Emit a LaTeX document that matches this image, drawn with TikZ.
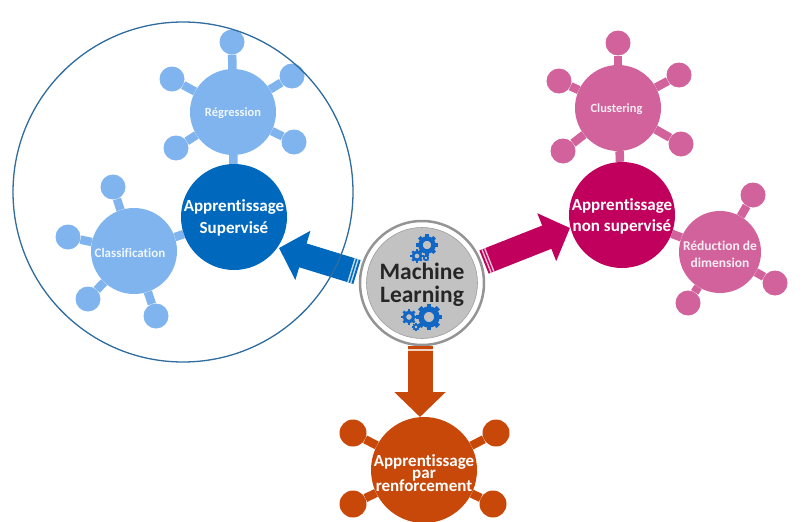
\documentclass[tikz,border=0pt]{standalone}
\usepackage{fontspec}
\setmainfont[Ligatures=NoCommon]{Carlito}
\usetikzlibrary{calc,arrows.meta}
\pgfdeclarelayer{paper}
\pgfdeclarelayer{bg}
\pgfsetlayers{paper,bg,main}
\definecolor{lblue}{HTML}{7FB4EE}
\definecolor{dblue}{HTML}{0069BD}
\definecolor{lpink}{HTML}{D2629B}
\definecolor{dpink}{HTML}{C0005C}
\definecolor{dorange}{HTML}{C8480A}
\definecolor{ring}{HTML}{2F6C9F}
\definecolor{gearblue}{HTML}{1266C4}
% size, leading, text: a zero-size centred block, so that circles keep their size
\newcommand{\zt}[3]{\smash{\makebox[0pt]{\raisebox{-0.36em}{\parbox[c]{220pt}{\centering\lineskiplimit=-100pt\fontsize{#1}{#2}\selectfont\bfseries #3\endgraf}}}}}
\newcommand{\gearat}[3]{%
  \draw[gearblue,line width=0.5*#3] (#1,#2) circle[radius=0.72*#3];
  \foreach \a in {0,45,...,315}{\draw[gearblue,line width=0.42*#3] ($(#1,#2)+(\a:0.8*#3)$) -- ($(#1,#2)+(\a:1.2*#3)$);}
}
\tikzset{
  x=1pt,y=-1pt,
  hub/.style={circle,inner sep=0pt,minimum size=106pt,text=white},
  sub/.style={circle,inner sep=0pt,minimum size=86pt,fill=#1,text=white!88!#1},
  sat/.style={circle,inner sep=0pt,minimum size=25pt,fill=#1},
  link/.style={#1,line width=8.5pt},
  bigarrow/.style={#1,line width=25pt,-{Triangle[length=25pt,width=50pt]}},
  stripe/.style={white!75!#1,line width=25pt},
}
\begin{document}
\begin{tikzpicture}
\useasboundingbox (0,0) rectangle (806,522);
\begin{pgfonlayer}{paper}\fill[white] (0,0) rectangle (806,522);\end{pgfonlayer}
% Machine Learning centre
\node[circle,inner sep=0pt,minimum size=124pt,fill=white,draw=black!42,line width=2.5pt] (mlo) at (422,283) {};
\node[circle,inner sep=0pt,minimum size=111pt,fill=black!24,draw=black!38,line width=0.6pt,text=black!85] (ml) at (422,283) {\raisebox{-1.5pt}{\zt{23.5}{23}{Machine\\Learning}}};
\gearat{427}{245}{9}
\gearat{417}{256}{5.5}
\gearat{426}{258}{2.8}
\gearat{429}{317}{11}
\gearat{409}{317}{6.5}
\gearat{416}{327}{3.2}

% Supervised
\node[hub,fill=dblue] (sup) at (234,217) {\zt{17}{22}{Apprentissage\\Supervisé}};
\node[sub=lblue] (reg) at (233,112) {\zt{12.5}{14}{Régression}};
\node[sub=lblue] (cla) at (134,251) {\hspace{-8pt}\raisebox{-2pt}{\zt{13}{14}{Classification}}};
\foreach \n/\x/\y in {r1/232/42,r2/172/79,r3/292/76,r4/176/148,r5/294/142}{
  \node[sat=lblue] (\n) at (\x,\y) {};
  \begin{pgfonlayer}{bg}\draw[link=lblue] (reg) -- (\n);\end{pgfonlayer}
}
\foreach \n/\x/\y in {c1/113/187,c2/68/237,c3/88/299,c4/156/316}{
  \node[sat=lblue] (\n) at (\x,\y) {};
  \begin{pgfonlayer}{bg}\draw[link=lblue] (cla) -- (\n);\end{pgfonlayer}
}
\begin{pgfonlayer}{bg}
\draw[link=lblue] (sup) -- (reg);
\draw[link=lblue] (sup) -- (cla);
\end{pgfonlayer}

% Unsupervised
\node[hub,fill=dpink] (uns) at (622,215) {\zt{17}{21}{Apprentissage\\non supervisé}};
\node[sub=lpink] (clu) at (618,108) {\hspace{-3pt}\zt{12.5}{14}{Clustering}};
\node[sub=lpink,minimum size=82pt] (red) at (720,252) {\raisebox{-2pt}{\zt{13.5}{16.5}{Réduction de\\dimension}}};
\foreach \n/\x/\y in {u1/618/43,u2/559/81,u3/679/75,u4/563/151,u5/681/144}{
  \node[sat=lpink] (\n) at (\x,\y) {};
  \begin{pgfonlayer}{bg}\draw[link=lpink] (clu) -- (\n);\end{pgfonlayer}
}
\foreach \n/\x/\y in {d1/753/195,d2/775/283,d3/688/303}{
  \node[sat=lpink] (\n) at (\x,\y) {};
  \begin{pgfonlayer}{bg}\draw[link=lpink] (red) -- (\n);\end{pgfonlayer}
}
\begin{pgfonlayer}{bg}
\draw[link=lpink] (uns) -- (clu);
\draw[link=lpink] (uns) -- (red);
\end{pgfonlayer}

% Reinforcement
\node[hub,fill=dorange] (ren) at (424,470) {\raisebox{-3.5pt}{\zt{17}{12.5}{Apprentissage\\par\\renforcement}}};
\foreach \n/\x/\y in {o1/353/433,o2/496/433,o3/353/504,o4/493/504}{
  \node[sat=dorange,minimum size=27pt] (\n) at (\x,\y) {};
  \begin{pgfonlayer}{bg}\draw[link=dorange] (ren) -- (\n);\end{pgfonlayer}
}

% Arrows
\coordinate (as) at (357,272);
\coordinate (ae) at (279,248);
\coordinate (bs) at (484,262);
\coordinate (be) at (570,228);
\coordinate (cs) at (420,346);
\coordinate (ce) at (420,417);
\draw[bigarrow=dblue] (as) -- (ae);
\draw[bigarrow=dpink] (bs) -- (be);
\draw[bigarrow=dorange] (cs) -- (ce);
\draw[stripe=dblue,line width=25pt] ($(as)!2pt!(ae)$) -- ($(as)!3.4pt!(ae)$);
\draw[stripe=dblue,line width=25pt] ($(as)!5pt!(ae)$) -- ($(as)!6.4pt!(ae)$);
\draw[stripe=dpink,line width=25pt] ($(bs)!2pt!(be)$) -- ($(bs)!3.4pt!(be)$);
\draw[stripe=dpink,line width=25pt] ($(bs)!5pt!(be)$) -- ($(bs)!6.4pt!(be)$);
\draw[stripe=dorange,line width=25pt] ($(cs)!3pt!(ce)$) -- ($(cs)!4.5pt!(ce)$);

% Surrounding circle
\node[circle,inner sep=0pt,minimum size=340pt,draw=ring,line width=1.3pt] (all) at (183,192) {};
\end{tikzpicture}
\end{document}
